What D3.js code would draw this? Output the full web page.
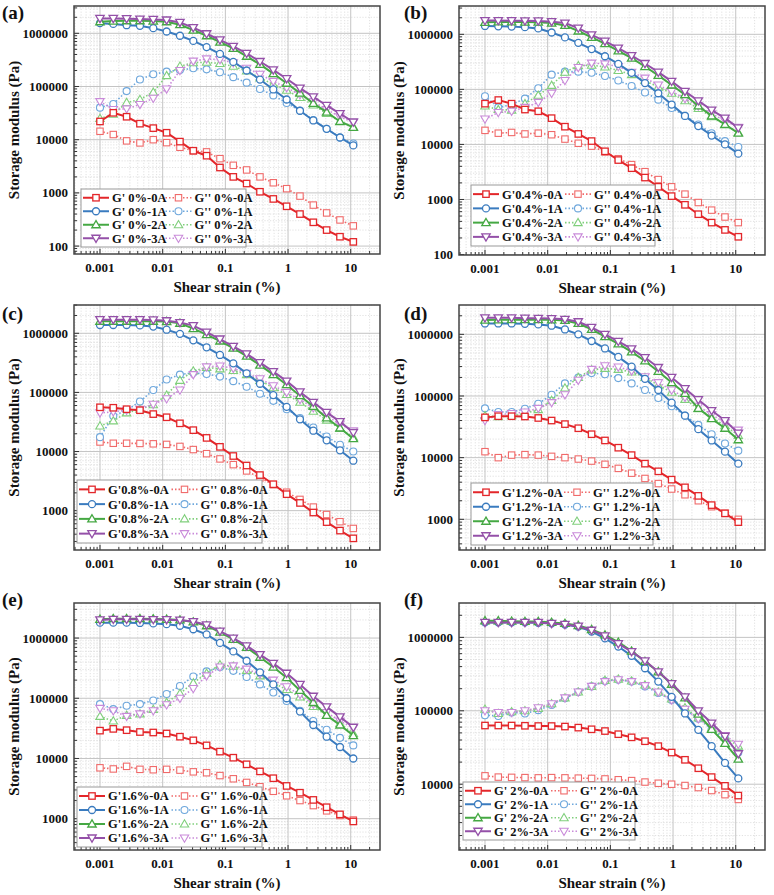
<!DOCTYPE html>
<html>
<head>
<meta charset="utf-8">
<script src="https://cdn.jsdelivr.net/npm/d3@7"></script>
<style>
  body { margin: 0; background: #fff; }
</style>
</head>
<body>
<div id="chart"></div>
<script>
// shear strain (%) steps, same for all panels
const strain = [0.001, 0.00163, 0.00266, 0.00434, 0.00708, 0.01156, 0.01886, 0.0308, 0.0502, 0.082,
                0.1338, 0.2184, 0.3565, 0.5818, 0.9496, 1.55, 2.529, 4.128, 6.737, 10.995];

const samples = ["0A", "1A", "2A", "3A"];

// (a) 0%
const gpA = [
  [22000, 32000, 27000, 20000, 16500, 13500, 9200, 6200, 5000, 3000, 2000, 1500, 1050, 770, 560, 400, 280, 200, 150, 120],
  [1550000, 1500000, 1420000, 1380000, 1250000, 1080000, 900000, 720000, 550000, 410000, 290000, 200000, 135000, 88000, 57000, 35000, 23000, 16000, 11000, 7800],
  [1650000, 1700000, 1720000, 1720000, 1700000, 1650000, 1450000, 1150000, 900000, 680000, 520000, 370000, 260000, 175000, 115000, 75000, 48000, 33000, 22000, 17000],
  [1900000, 1900000, 1880000, 1850000, 1820000, 1780000, 1600000, 1280000, 980000, 750000, 570000, 420000, 295000, 205000, 140000, 93000, 64000, 44000, 31000, 21500]
];
const gppA = [
  [14400, 12500, 9500, 8700, 10000, 8800, 7200, 6200, 5900, 4400, 3300, 2700, 2000, 1550, 1200, 870, 590, 420, 310, 240],
  [40000, 47000, 82000, 135000, 170000, 190000, 205000, 220000, 210000, 185000, 150000, 118000, 90000, 68000, 49000, 35000, 23500, 16000, 11000, 8500],
  [25000, 30000, 50000, 57000, 78000, 160000, 240000, 280000, 285000, 270000, 240000, 195000, 145000, 110000, 85000, 62000, 45000, 31000, 22000, 17500],
  [52000, 37000, 38000, 46000, 60000, 90000, 200000, 300000, 330000, 320000, 280000, 220000, 170000, 125000, 95000, 70000, 52000, 37000, 27000, 21000]
];

// (b) 0.4%
const gpB = [
  [55000, 64000, 55000, 43000, 40000, 30000, 21000, 15500, 11500, 7500, 5200, 3700, 2500, 1700, 1150, 800, 540, 380, 280, 210],
  [1420000, 1400000, 1380000, 1350000, 1280000, 1080000, 880000, 700000, 540000, 400000, 290000, 200000, 130000, 85000, 53000, 33000, 21500, 14500, 10000, 6800],
  [1650000, 1680000, 1680000, 1670000, 1660000, 1600000, 1450000, 1150000, 880000, 680000, 500000, 370000, 260000, 180000, 120000, 80000, 50000, 33000, 23000, 16000],
  [1780000, 1780000, 1770000, 1760000, 1750000, 1700000, 1600000, 1300000, 980000, 750000, 560000, 410000, 295000, 205000, 140000, 92000, 62000, 42000, 30000, 20000]
];
const gppB = [
  [18000, 16000, 16500, 15500, 16000, 15000, 12500, 10500, 9300, 7300, 5500, 4300, 3200, 2300, 1700, 1250, 880, 640, 480, 380],
  [75000, 47000, 53000, 68000, 105000, 185000, 210000, 210000, 200000, 175000, 145000, 115000, 88000, 65000, 46000, 33000, 23000, 16000, 11500, 9000],
  [50000, 43000, 42000, 55000, 78000, 118000, 205000, 270000, 275000, 255000, 220000, 185000, 145000, 110000, 85000, 62000, 45000, 32000, 23000, 16500],
  [29000, 38000, 40000, 47000, 58000, 85000, 145000, 250000, 300000, 290000, 260000, 205000, 160000, 120000, 92000, 68000, 50000, 36000, 27000, 20500]
];

// (c) 0.8%
const gpC = [
  [56000, 55000, 52000, 50000, 43000, 38000, 30000, 23000, 17000, 12000, 8400, 5800, 4000, 2800, 1900, 1350, 930, 640, 460, 340],
  [1380000, 1380000, 1380000, 1360000, 1300000, 1150000, 980000, 760000, 580000, 430000, 310000, 210000, 140000, 90000, 57000, 35000, 22500, 15500, 10500, 7000],
  [1600000, 1600000, 1600000, 1600000, 1600000, 1580000, 1480000, 1200000, 950000, 740000, 560000, 410000, 290000, 200000, 135000, 88000, 58000, 37000, 25000, 16500],
  [1700000, 1700000, 1700000, 1700000, 1680000, 1630000, 1520000, 1350000, 1050000, 800000, 600000, 450000, 320000, 225000, 155000, 102000, 68000, 46000, 32000, 21000]
];
const gppC = [
  [14500, 13800, 13800, 13700, 13500, 13200, 12200, 10800, 9200, 7500, 6000, 4700, 3600, 2750, 2050, 1550, 1150, 860, 650, 500],
  [17500, 40000, 50000, 70000, 110000, 165000, 200000, 215000, 205000, 185000, 155000, 125000, 95000, 72000, 52000, 37000, 25500, 18000, 13000, 10000],
  [27000, 33000, 45000, 52000, 62000, 90000, 160000, 230000, 265000, 250000, 235000, 200000, 160000, 120000, 92000, 68000, 48000, 34000, 24500, 17500],
  [45000, 47000, 50000, 52000, 63000, 78000, 110000, 200000, 270000, 280000, 255000, 210000, 170000, 130000, 100000, 76000, 55000, 40000, 29000, 22500]
];

// (d) 1.2%
const gpD = [
  [45000, 47000, 47000, 46500, 44000, 40000, 35000, 30000, 24000, 19000, 14500, 11000, 8000, 6000, 4400, 3300, 2400, 1700, 1250, 900],
  [1500000, 1500000, 1500000, 1480000, 1450000, 1380000, 1200000, 1000000, 780000, 590000, 430000, 300000, 190000, 125000, 78000, 48000, 29000, 19000, 12500, 8000],
  [1700000, 1720000, 1730000, 1730000, 1730000, 1720000, 1680000, 1500000, 1200000, 920000, 700000, 520000, 370000, 250000, 165000, 110000, 63000, 43000, 30000, 19500],
  [1850000, 1850000, 1850000, 1830000, 1820000, 1800000, 1750000, 1600000, 1300000, 1000000, 770000, 580000, 420000, 290000, 200000, 132000, 87000, 58000, 40000, 25000]
];
const gppD = [
  [12500, 10000, 11000, 11200, 11000, 10500, 10000, 9500, 8800, 7800, 6700, 5600, 4600, 3800, 3100, 2500, 2000, 1600, 1250, 1000],
  [63000, 55000, 55000, 62000, 75000, 105000, 160000, 200000, 235000, 225000, 195000, 160000, 125000, 93000, 68000, 48000, 34000, 24000, 17000, 13000],
  [48000, 46000, 48000, 52000, 60000, 85000, 135000, 200000, 265000, 280000, 270000, 245000, 200000, 150000, 115000, 88000, 62000, 45000, 33000, 23000],
  [40000, 50000, 52000, 55000, 63000, 78000, 105000, 180000, 270000, 310000, 295000, 255000, 205000, 165000, 125000, 95000, 68000, 50000, 37000, 28000]
];

// (e) 1.6%
const gpE = [
  [29000, 31000, 29500, 27500, 27000, 26000, 23000, 20000, 16500, 13000, 10300, 8000, 6100, 4700, 3500, 2700, 2050, 1550, 1180, 900],
  [1800000, 1800000, 1800000, 1780000, 1750000, 1700000, 1600000, 1400000, 1150000, 830000, 600000, 420000, 270000, 170000, 100000, 60000, 36000, 23000, 15500, 10000],
  [2050000, 2100000, 2100000, 2100000, 2080000, 2050000, 2000000, 1850000, 1600000, 1250000, 950000, 700000, 480000, 330000, 220000, 135000, 85000, 52000, 36000, 24000],
  [2000000, 2050000, 2050000, 2050000, 2030000, 2020000, 1980000, 1880000, 1650000, 1300000, 1000000, 740000, 530000, 380000, 260000, 170000, 108000, 72000, 49000, 33000]
];
const gppE = [
  [7000, 6700, 7400, 6600, 6500, 6600, 6400, 6000, 5800, 5200, 4600, 4000, 3400, 2850, 2400, 2000, 1650, 1350, 1130, 950],
  [80000, 66000, 75000, 80000, 92000, 118000, 160000, 230000, 280000, 330000, 285000, 225000, 170000, 125000, 90000, 62000, 42000, 30000, 22000, 16500],
  [50000, 42000, 52000, 55000, 65000, 85000, 120000, 180000, 260000, 360000, 340000, 290000, 235000, 180000, 140000, 105000, 73000, 52000, 38000, 26000],
  [68000, 62000, 50000, 55000, 62000, 78000, 100000, 145000, 235000, 330000, 345000, 305000, 250000, 200000, 155000, 115000, 80000, 58000, 42000, 32000]
];

// (f) 2%
const gpF = [
  [63000, 63000, 63000, 62500, 62000, 62000, 61000, 59000, 56000, 53000, 48000, 43500, 38500, 33000, 27000, 21500, 16500, 12500, 9500, 7000],
  [1600000, 1600000, 1600000, 1600000, 1580000, 1550000, 1500000, 1400000, 1200000, 970000, 750000, 560000, 380000, 250000, 155000, 92000, 55000, 33000, 19500, 12000],
  [1680000, 1680000, 1660000, 1650000, 1640000, 1600000, 1550000, 1450000, 1280000, 1080000, 860000, 650000, 470000, 340000, 230000, 150000, 90000, 56000, 36000, 22000],
  [1600000, 1600000, 1600000, 1600000, 1600000, 1550000, 1500000, 1420000, 1250000, 1050000, 820000, 640000, 480000, 340000, 235000, 155000, 100000, 68000, 45000, 26000]
];
const gppF = [
  [13000, 12500, 12400, 12300, 12200, 12300, 12200, 12100, 12000, 11800, 11500, 11200, 10700, 10300, 10000, 9600, 9000, 8200, 7200, 6200],
  [87000, 85000, 95000, 92000, 102000, 120000, 148000, 180000, 215000, 255000, 265000, 250000, 215000, 175000, 140000, 105000, 78000, 56000, 42000, 27000],
  [105000, 92000, 97000, 100000, 108000, 125000, 150000, 180000, 215000, 260000, 270000, 255000, 225000, 180000, 145000, 110000, 80000, 58000, 44000, 33000],
  [100000, 95000, 95000, 100000, 110000, 125000, 150000, 180000, 215000, 250000, 265000, 250000, 220000, 180000, 140000, 105000, 78000, 60000, 46000, 35000]
];

const xTicks = [0.001, 0.01, 0.1, 1, 10];
const xTickLabels = ["0.001", "0.01", "0.1", "1", "10"];

// colours: G' solid, G'' lighter + dotted
const colGp  = ["#e3262a", "#3a7bbf", "#45a843", "#9450a8"];
const colGpp = ["#f06a6a", "#6ea7dc", "#80cf7c", "#c98ad9"];
const shapes = ["square", "circle", "up", "down"];

const panels = [
  {label: "(a)", conc: "0%",   gSep: " ", gp: gpA, gpp: gppA, box: [74, 6, 380, 254],   yDom: [71, 3.26e6],  leg: [81, 189, 165, 58],  lab: [2, 19]},
  {label: "(b)", conc: "0.4%", gSep: "",  gp: gpB, gpp: gppB, box: [459, 6, 765, 255],  yDom: [98, 3.27e6],  leg: [471, 185, 184, 61], lab: [404, 19]},
  {label: "(c)", conc: "0.8%", gSep: "",  gp: gpC, gpp: gppC, box: [74, 305, 380, 550], yDom: [216, 3.01e6], leg: [77, 480, 185, 63],  lab: [2, 320]},
  {label: "(d)", conc: "1.2%", gSep: "",  gp: gpD, gpp: gppD, box: [459, 305, 765, 550], yDom: [318, 2.99e6], leg: [471, 483, 182, 62], lab: [404, 320]},
  {label: "(e)", conc: "1.6%", gSep: "",  gp: gpE, gpp: gppE, box: [74, 603, 380, 850], yDom: [302, 3.82e6], leg: [77, 787, 185, 60],  lab: [2, 606]},
  {label: "(f)", conc: "2%",   gSep: " ", gp: gpF, gpp: gppF, box: [459, 603, 765, 850], yDom: [1270, 2.94e6], leg: [463, 782, 172, 58], lab: [404, 606]}
];

const svg = d3.select("#chart").append("svg")
    .attr("width", 774)
    .attr("height", 895)
    .attr("font-family", "'Liberation Serif', 'DejaVu Serif', serif")
    .attr("font-weight", "bold")
    .attr("fill", "#111");

// marker drawing helper
function addMarker(g, shape, cx, cy, color, sw) {
    if (shape === "square") {
        g.append("rect").attr("x", cx - 3.2).attr("y", cy - 3.2).attr("width", 6.4).attr("height", 6.4)
            .attr("fill", "#fff").attr("stroke", color).attr("stroke-width", sw);
    } else if (shape === "circle") {
        g.append("circle").attr("cx", cx).attr("cy", cy).attr("r", 3.5)
            .attr("fill", "#fff").attr("stroke", color).attr("stroke-width", sw);
    } else {
        let s = shape === "up" ? 1 : -1;
        let pts = [[cx, cy - 4.2 * s], [cx - 4.2, cy + 3 * s], [cx + 4.2, cy + 3 * s]];
        g.append("path").attr("d", "M" + pts.join("L") + "Z")
            .attr("fill", "#fff").attr("stroke", color).attr("stroke-width", sw);
    }
}

panels.forEach(p => {
    let [x0, y0, x1, y1] = p.box;
    let g = svg.append("g");

    let x = d3.scaleLog().domain([3.85e-4, 29.3]).range([x0, x1]);
    let y = d3.scaleLog().domain(p.yDom).range([y1, y0]);

    let xAll = x.ticks();
    let yAll = y.ticks();
    let isMajor = v => Math.abs(Math.log10(v) - Math.round(Math.log10(v))) < 1e-6;

    // minor grid (dotted)
    g.selectAll(".xminor").data(xAll.filter(v => !isMajor(v))).enter().append("line")
        .attr("x1", d => x(d)).attr("x2", d => x(d)).attr("y1", y0).attr("y2", y1)
        .attr("stroke", "#d4d4d4").attr("stroke-width", 0.7).attr("stroke-dasharray", "1.2,1.6");
    g.selectAll(".yminor").data(yAll.filter(v => !isMajor(v))).enter().append("line")
        .attr("x1", x0).attr("x2", x1).attr("y1", d => y(d)).attr("y2", d => y(d))
        .attr("stroke", "#d4d4d4").attr("stroke-width", 0.7).attr("stroke-dasharray", "1.2,1.6");
    // major grid
    g.selectAll(".xmajor").data(xTicks).enter().append("line")
        .attr("x1", d => x(d)).attr("x2", d => x(d)).attr("y1", y0).attr("y2", y1)
        .attr("stroke", "#c4c4c4").attr("stroke-width", 1);
    let yMajor = yAll.filter(isMajor);
    g.selectAll(".ymajor").data(yMajor).enter().append("line")
        .attr("x1", x0).attr("x2", x1).attr("y1", d => y(d)).attr("y2", d => y(d))
        .attr("stroke", "#c4c4c4").attr("stroke-width", 1);

    // ticks inside, left and bottom
    g.selectAll(".xt").data(xAll).enter().append("line")
        .attr("x1", d => x(d)).attr("x2", d => x(d))
        .attr("y1", y1).attr("y2", d => y1 - (isMajor(d) ? 5 : 3))
        .attr("stroke", "#333").attr("stroke-width", 1);
    g.selectAll(".yt").data(yAll).enter().append("line")
        .attr("y1", d => y(d)).attr("y2", d => y(d))
        .attr("x1", x0).attr("x2", d => x0 + (isMajor(d) ? 5 : 3))
        .attr("stroke", "#333").attr("stroke-width", 1);

    // tick labels
    g.selectAll(".xl").data(xTicks).enter().append("text")
        .attr("x", d => x(d)).attr("y", y1 + 18)
        .attr("text-anchor", "middle").style("font-size", "13px")
        .text((d, i) => xTickLabels[i]);
    g.selectAll(".yl").data(yMajor).enter().append("text")
        .attr("x", x0 - 6).attr("y", d => y(d)).attr("dy", "0.35em")
        .attr("text-anchor", "end").style("font-size", "13px")
        .text(d => d3.format("d")(d));

    // axis titles
    g.append("text")
        .attr("x", (x0 + x1) / 2).attr("y", y1 + 38)
        .attr("text-anchor", "middle").style("font-size", "15px")
        .text("Shear strain (%)");
    g.append("text")
        .attr("transform", `translate(${x0 - 55}, ${(y0 + y1) / 2}) rotate(-90)`)
        .attr("text-anchor", "middle").style("font-size", "15px")
        .text("Storage modulus (Pa)");

    // panel label
    g.append("text").attr("x", p.lab[0]).attr("y", p.lab[1])
        .style("font-size", "19px").text(p.label);

    let line = d3.line().x((d, i) => x(strain[i])).y(d => y(d));

    // G'' dotted series
    p.gpp.forEach((vals, k) => {
        g.append("path").datum(vals).attr("d", line).attr("fill", "none")
            .attr("stroke", colGpp[k]).attr("stroke-width", 1.6).attr("stroke-dasharray", "1.5,2");
        vals.forEach((v, i) => addMarker(g, shapes[k], x(strain[i]), y(v), colGpp[k], 1.1));
    });
    // G' solid series
    p.gp.forEach((vals, k) => {
        g.append("path").datum(vals).attr("d", line).attr("fill", "none")
            .attr("stroke", colGp[k]).attr("stroke-width", 2);
        vals.forEach((v, i) => addMarker(g, shapes[k], x(strain[i]), y(v), colGp[k], 1.3));
    });

    // frame
    g.append("rect").attr("x", x0).attr("y", y0).attr("width", x1 - x0).attr("height", y1 - y0)
        .attr("fill", "none").attr("stroke", "#444").attr("stroke-width", 1.5);

    // legend
    let [lx, ly, lw, lh] = p.leg;
    let lg = g.append("g");
    lg.append("rect").attr("x", lx).attr("y", ly).attr("width", lw).attr("height", lh)
        .attr("fill", "#fff").attr("stroke", "#999").attr("stroke-width", 1);
    let rowH = (lh - 4) / 4;
    samples.forEach((s, k) => {
        let cy = ly + 2 + rowH * (k + 0.5);
        [0, 1].forEach(c => {
            let sx = lx + 2 + c * lw / 2;
            let col = c === 0 ? colGp[k] : colGpp[k];
            lg.append("line").attr("x1", sx).attr("x2", sx + 26).attr("y1", cy).attr("y2", cy)
                .attr("stroke", col).attr("stroke-width", c === 0 ? 2 : 1.6)
                .attr("stroke-dasharray", c === 0 ? null : "1.5,2");
            addMarker(lg, shapes[k], sx + 13, cy, col, c === 0 ? 1.3 : 1.1);
            lg.append("text").attr("x", sx + 29).attr("y", cy).attr("dy", "0.35em")
                .style("font-size", "12.5px")
                .text(c === 0 ? `G'${p.gSep}${p.conc}-${s}` : `G'' ${p.conc}-${s}`);
        });
    });
});
</script>
</body>
</html>
